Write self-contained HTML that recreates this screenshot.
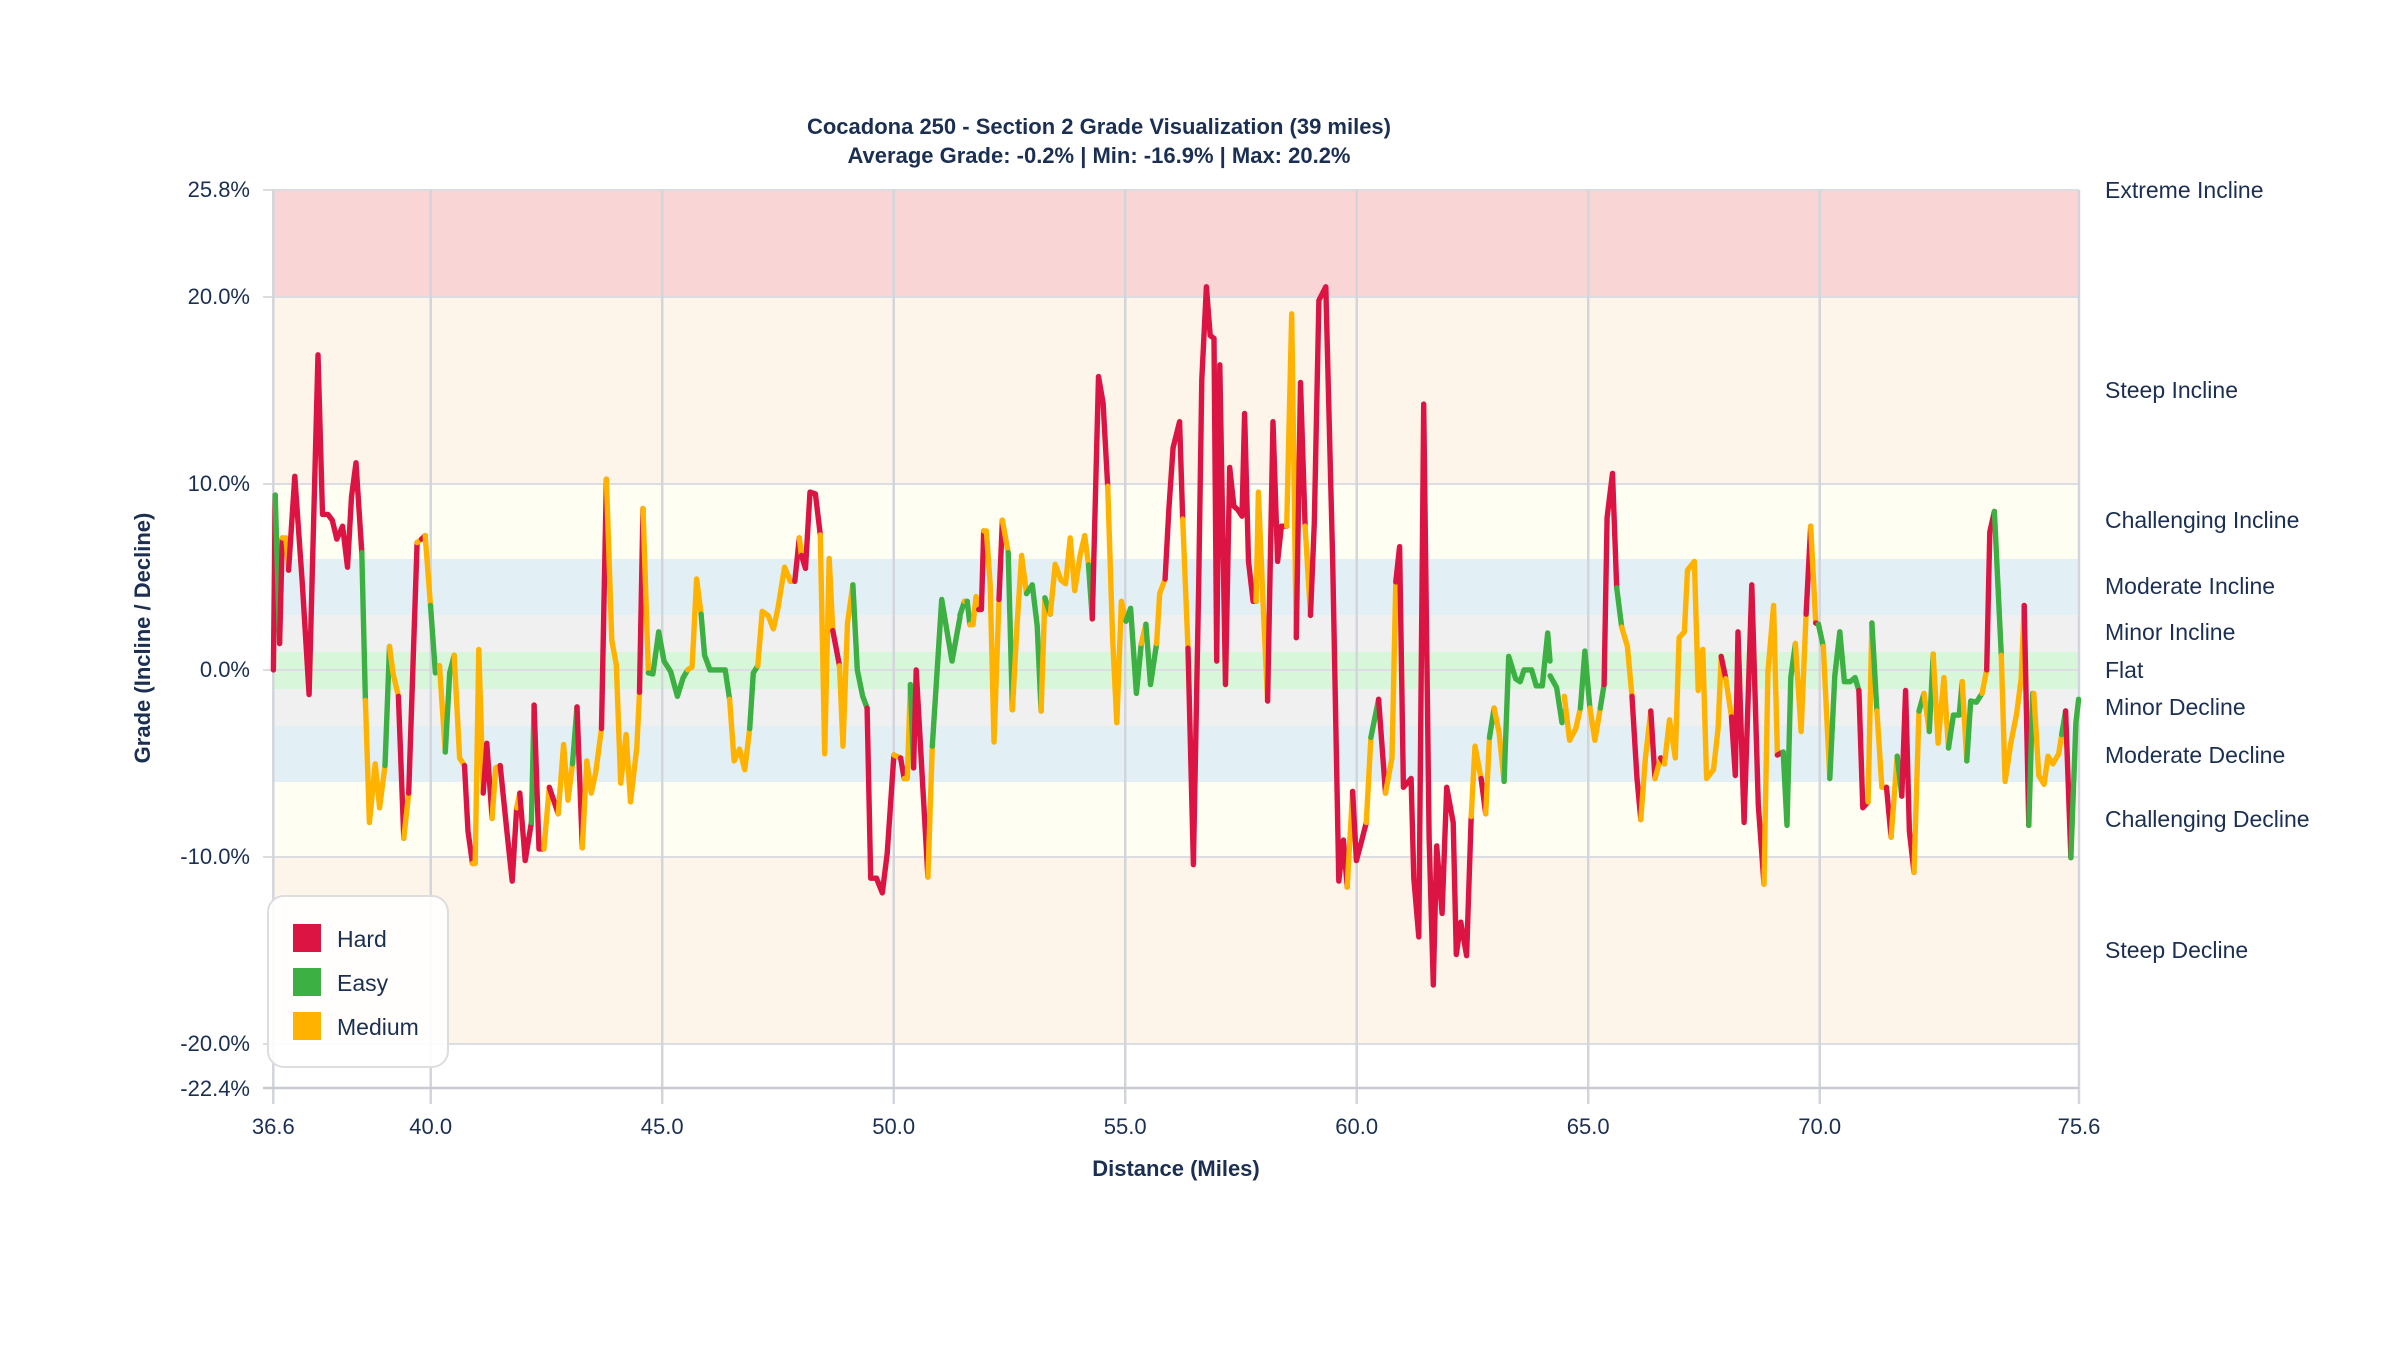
<!DOCTYPE html>
<html><head><meta charset="utf-8"><style>
html,body{margin:0;padding:0;background:#fff;}
svg{display:block;font-family:"Liberation Sans",sans-serif;}
</style></head><body>
<svg id="s" width="2400" height="1350" viewBox="0 0 2400 1350" xmlns="http://www.w3.org/2000/svg">
<rect x="273" y="190" width="1806" height="107" fill="#f9d5d5"/>
<rect x="273" y="297" width="1806" height="187" fill="#fdf5e9"/>
<rect x="273" y="484" width="1806" height="75" fill="#fffef2"/>
<rect x="273" y="559" width="1806" height="56" fill="#e2f0f5"/>
<rect x="273" y="615" width="1806" height="37" fill="#f0f0f0"/>
<rect x="273" y="652" width="1806" height="37" fill="#d8f6d9"/>
<rect x="273" y="689" width="1806" height="37" fill="#f0f0f0"/>
<rect x="273" y="726" width="1806" height="56" fill="#e2f0f5"/>
<rect x="273" y="782" width="1806" height="75" fill="#fffef2"/>
<rect x="273" y="857" width="1806" height="187" fill="#fdf5e9"/>
<g stroke="#dcdde2" stroke-width="2" fill="none">
<line x1="273" y1="190" x2="2079" y2="190"/>
<line x1="273" y1="297" x2="2079" y2="297"/>
<line x1="273" y1="484" x2="2079" y2="484"/>
<line x1="273" y1="670" x2="2079" y2="670"/>
<line x1="273" y1="857" x2="2079" y2="857"/>
<line x1="273" y1="1044" x2="2079" y2="1044"/>
<line x1="263" y1="190" x2="273" y2="190"/>
<line x1="263" y1="297" x2="273" y2="297"/>
<line x1="263" y1="484" x2="273" y2="484"/>
<line x1="263" y1="670" x2="273" y2="670"/>
<line x1="263" y1="857" x2="273" y2="857"/>
<line x1="263" y1="1044" x2="273" y2="1044"/>
</g>
<g id="vg" stroke="#d3d5dc" stroke-width="2.5"></g>
<line x1="263" y1="1088" x2="2079" y2="1088" stroke="#c9cbd2" stroke-width="2.5"/>
<g id="lines" stroke-linecap="round" stroke-linejoin="round"></g>
<rect x="268" y="896" width="180" height="171" rx="16" fill="#ffffff" fill-opacity="0.9" stroke="#dddddd" stroke-width="2"/>
<rect x="293" y="924" width="28" height="28" fill="#dc1444"/>
<rect x="293" y="968" width="28" height="28" fill="#3cb043"/>
<rect x="293" y="1012" width="28" height="28" fill="#ffb300"/>
<g fill="#1b2f52" font-size="23">
<text x="337" y="947">Hard</text>
<text x="337" y="991">Easy</text>
<text x="337" y="1035">Medium</text>
</g>
<g fill="#1b2f52" font-weight="bold" font-size="22" text-anchor="middle">
<text x="1099" y="134">Cocadona 250 - Section 2 Grade Visualization (39 miles)</text>
<text x="1099" y="163">Average Grade: -0.2% | Min: -16.9% | Max: 20.2%</text>
<text x="1176" y="1176">Distance (Miles)</text>
<text transform="translate(150,638) rotate(-90)">Grade (Incline / Decline)</text>
</g>
<g fill="#1b2f52" font-size="22" text-anchor="end">
<text x="250" y="197">25.8%</text>
<text x="250" y="304">20.0%</text>
<text x="250" y="491">10.0%</text>
<text x="250" y="677">0.0%</text>
<text x="250" y="864">-10.0%</text>
<text x="250" y="1051">-20.0%</text>
<text x="250" y="1096">-22.4%</text>
</g>
<g id="xt" fill="#1b2f52" font-size="22" text-anchor="middle"></g>
<g fill="#1b2f52" font-size="23">
<text x="2105" y="198">Extreme Incline</text>
<text x="2105" y="398">Steep Incline</text>
<text x="2105" y="528">Challenging Incline</text>
<text x="2105" y="594">Moderate Incline</text>
<text x="2105" y="640">Minor Incline</text>
<text x="2105" y="678">Flat</text>
<text x="2105" y="715">Minor Decline</text>
<text x="2105" y="763">Moderate Decline</text>
<text x="2105" y="827">Challenging Decline</text>
<text x="2105" y="958">Steep Decline</text>
</g>
</svg>
<script>
var NS="http://www.w3.org/2000/svg";
function el(t,a,p){var e=document.createElementNS(NS,t);for(var k in a)e.setAttribute(k,a[k]);p.appendChild(e);return e;}
var vg=document.getElementById('vg'),xt=document.getElementById('xt');
var x0=273.3,x1=2079,mpp=(x1-x0)/39;
var ticks=[36.6,40,45,50,55,60,65,70,75.6];
ticks.forEach(function(m){var x=x0+(m-36.6)*mpp;el('line',{x1:x,y1:190,x2:x,y2:1104},vg);
 var t=el('text',{x:x,y:1134},xt);t.textContent=m.toFixed(1);});
var C={H:"#dc1444",E:"#3cb043",M:"#ffb300"};
var Z1=[
["H",30,835,34,537],["E",34,537,44,790],["H",44,790,50,610],["M",50,610,58,610,64,665],["H",64,665,78,505,95,690,110,877,130,298,140,570,152,570,162,580,172,612,185,590,196,660,205,540,215,482,228,635],
["E",228,635,236,887],["M",236,887,245,1095,258,995,268,1070,280,998],["E",280,998,290,795],["M",290,795,298,840,310,880],["H",310,880,322,1122],["M",322,1122,333,1045],["H",333,1045,352,618],["M",352,618,362,612],["H",362,612,370,606],["M",370,606,382,725],["E",382,725,393,840,402,828],["M",402,828,415,975],["E",415,975,425,840,435,810],["M",435,810,447,985,458,998],["H",458,998,466,1110,476,1165],["M",476,1165,482,1165,490,800,500,1045],["H",500,1045,508,960,520,1088],["M",520,1088,528,1002,538,998],["H",538,998,553,1110,565,1195,575,1070],["M",575,1070,582,1045],["H",582,1045,594,1160,608,1095],["E",608,1095,614,895],["H",614,895,625,1140,636,1140],["M",636,1140,648,1035],["H",648,1035,668,1080],["M",668,1080,680,962,690,1057,700,995],["E",700,995,710,898],["H",710,898,722,1138],["M",722,1138,732,990,742,1045,752,1010,765,935],["H",765,935,776,510],["M",776,510,788,785,798,826,808,1028,820,945,830,1060,844,968,850,873],["H",850,873,858,560],["M",858,560,870,840],["E",870,840,880,842,893,770,905,820,920,838,935,880,948,848,958,835],["M",958,835,968,830,978,680,988,740],["E",988,740,996,810,1008,835,1042,835,1052,885],["M",1052,885,1062,990,1074,970,1086,1005,1097,935],["E",1097,935,1105,840,1115,828],["M",1115,828,1125,735,1138,742,1150,765,1160,730,1175,660,1188,684,1198,684],["H",1198,684,1208,610],["M",1208,610,1213,640],["H",1213,640,1222,662,1232,532,1244,535,1255,605],["M",1255,605,1265,978,1275,645,1283,768],["H",1283,768,1298,828],["M",1298,828,1306,965,1316,755,1328,690],["E",1328,690,1338,835,1350,880,1360,900],["H",1360,900,1368,1190,1381,1190,1394,1215,1405,1148,1420,980],["M",1420,980,1435,985],["H",1435,985,1443,1020],["M",1443,1020,1450,1020,1457,860],["E",1457,860,1464,1002],["H",1464,1002,1470,835,1496,1188],["M",1496,1188,1506,965],["E",1506,965,1527,715,1550,820,1568,745]
];
var Z2=[
["E",26,742,38,718],["M",38,718,45,718],["E",45,718,52,758],["M",52,758,60,758,68,710,75,732],["H",75,732,82,732,88,598],["M",88,598,95,598,105,690,115,958,128,715],["H",128,715,137,580],["M",137,580,152,635],["E",152,635,163,903],["M",163,903,175,760,187,640,200,705],["E",200,705,215,690,228,760,238,905],["M",238,905,248,712],["E",248,712,262,740],["M",262,740,275,655,290,682,302,688,314,610,326,700,340,640,352,606,362,656],["E",362,656,372,748],["H",372,748,388,335,400,380,412,522],["M",412,522,425,780,436,925,448,718,460,752],["E",460,752,472,730,487,875,500,790],["M",500,790,512,757],["E",512,757,524,860,540,790],["M",540,790,548,705,562,680],["H",562,680,572,560,583,456,600,412,608,578],["M",608,578,622,798],["H",622,798,636,1167,650,690,658,340,670,182,680,265,690,270,697,820,705,315,720,860,731,490,742,556,752,562,763,573,770,398,780,650,792,718,800,718],["M",800,718,806,532,818,718,830,888],["H",830,888,844,412,856,650,866,590,880,590],["M",880,590,893,228,905,780],["H",905,780,916,345,928,590],["M",928,590,942,742],["H",942,742,952,585,964,205,982,182,1000,650,1016,1195,1028,1125,1038,1205],["M",1038,1205,1052,1042],["H",1052,1042,1062,1160,1075,1128,1088,1095],["M",1088,1095,1100,950],["E",1100,950,1120,885],["H",1120,885,1138,1045],["M",1138,1045,1155,985,1165,685],["H",1165,685,1175,625,1185,1035,1205,1020,1212,1190,1225,1290,1238,382,1252,1120,1263,1372,1272,1135,1286,1250,1298,1035,1315,1095,1323,1320,1335,1265,1350,1322,1362,1085],["M",1362,1085,1372,965,1388,1020],["H",1388,1020,1400,1080],["M",1400,1080,1410,950],["E",1410,950,1422,900],["M",1422,900,1435,942,1448,1025],["E",1448,1025,1460,812,1478,850,1490,855,1500,835,1520,835,1532,862,1548,862,1562,772,1568,820]
];
var Z3=[
["E",131,845,148,865,162,925,168,905],["M",168,880,182,955,198,935,210,900],["E",210,900,222,803,235,900],["M",235,900,248,955,262,900],["E",262,900,272,860],["H",272,860,280,575,294,500,305,695],["E",305,695,318,762],["M",318,762,333,795,345,880],["H",345,880,358,1020,368,1090],["M",368,1090,380,985,394,905],["H",394,905,405,1020],["M",405,1020,420,985],["H",420,985,430,995],["M",430,995,443,920,458,985,468,780,482,770,490,665,508,650,518,870,530,800,540,1020,558,1005,570,935,578,812],["H",578,812,590,850],["M",590,850,605,915],["H",605,915,615,1015,622,770,638,1095,658,690,675,1065,690,1200],["M",690,1200,700,840,715,725,725,980],["H",725,980,740,975],["E",740,975,750,1100,760,848,772,790],["M",772,790,787,940,800,740],["H",800,740,812,590],["M",812,590,825,755],["H",825,755,832,757],["E",832,757,845,795],["M",845,795,862,1020],["E",862,1020,875,845,888,770,900,855,915,855,928,848,938,870],["H",938,870,948,1070,962,1060],["M",962,1060,972,755],["E",972,755,985,905],["M",985,905,998,1035,1010,1035],["H",1010,1035,1022,1120],["M",1022,1120,1038,982],["E",1038,982,1050,1050],["H",1050,1050,1060,870,1070,1110,1082,1180],["M",1082,1180,1095,905],["E",1095,905,1108,875],["M",1108,875,1122,940],["E",1122,940,1132,808],["M",1132,808,1145,960,1160,848,1172,968],["E",1172,968,1185,912,1200,912,1208,855],["M",1208,855,1220,990],["E",1220,990,1230,888,1245,890,1260,875],["M",1260,875,1272,835],["H",1272,835,1280,600,1292,565],["E",1292,565,1310,810],["M",1310,810,1320,1025,1335,960,1350,910,1362,850,1370,725],["H",1370,725,1382,1100],["E",1382,1100,1392,875],["M",1395,875,1408,1015,1422,1030,1432,982,1445,995,1460,978,1468,945],["E",1468,945,1478,905],["H",1478,905,1492,1155],["E",1492,1155,1505,925,1512,885]
];
var g=document.getElementById('lines');
function draw(Z,ox,oy,sx,sy){Z.forEach(function(s){var p=[];for(var i=1;i<s.length;i+=2){p.push((ox+s[i]/sx).toFixed(1)+","+(oy+s[i+1]/sy).toFixed(1));}
 el('polyline',{points:p.join(" "),fill:"none",stroke:C[s[0]],"stroke-width":5.4},g);});}
draw(Z1,260,180,1568/700,1568/920);
draw(Z2,950,180,1568/600,1568/920);
draw(Z3,1500,180,1568/600,1568/920);
</script>
</body></html>
